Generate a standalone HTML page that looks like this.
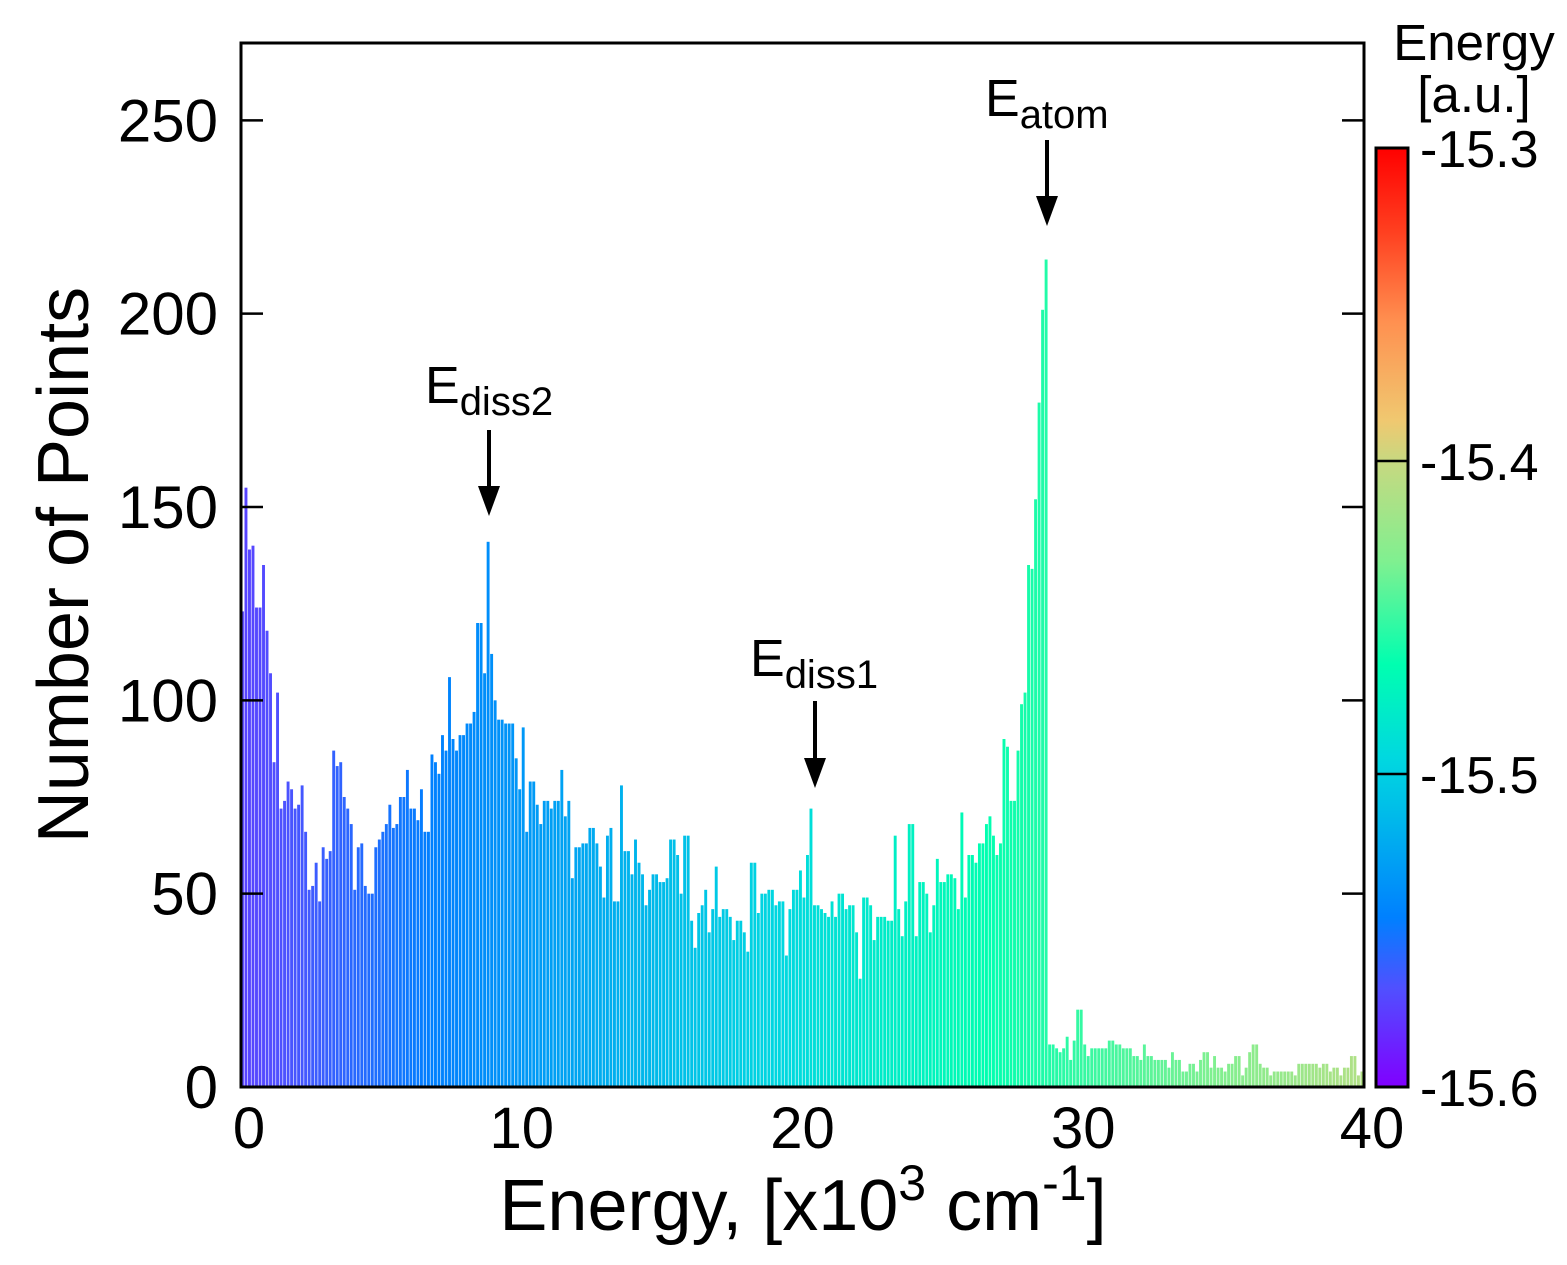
<!DOCTYPE html>
<html><head><meta charset="utf-8">
<style>
html,body{margin:0;padding:0;background:#fff;}
svg{display:block;font-family:"Liberation Sans",Arial,sans-serif;}
</style></head>
<body>
<svg id="chart" width="1567" height="1265" viewBox="0 0 1567 1265" xmlns="http://www.w3.org/2000/svg">
<defs>
<linearGradient id="cbgrad" x1="0" y1="1" x2="0" y2="0">
<stop offset="0" stop-color="#8000ff"/>
<stop offset="0.105" stop-color="#5050ff"/>
<stop offset="0.18" stop-color="#0080ff"/>
<stop offset="0.30" stop-color="#00c0e8"/>
<stop offset="0.35" stop-color="#00d8e0"/>
<stop offset="0.45" stop-color="#00ffb0"/>
<stop offset="0.56" stop-color="#80f090"/>
<stop offset="0.667" stop-color="#c8d880"/>
<stop offset="0.71" stop-color="#f0c870"/>
<stop offset="0.815" stop-color="#ff9050"/>
<stop offset="0.91" stop-color="#ff4020"/>
<stop offset="1" stop-color="#ff0000"/>
</linearGradient>
</defs>
<g id="bars"></g>
<rect x="241" y="43" width="1123" height="1044" fill="none" stroke="#000" stroke-width="3"/>
<g id="yticks"></g>
<g id="xticks"></g>
<text x="803" y="1230" font-size="72" text-anchor="middle">Energy, [x10<tspan dy="-30" font-size="50">3</tspan><tspan dy="30"> cm</tspan><tspan dy="-30" font-size="50">-1</tspan><tspan dy="30">]</tspan></text>
<text transform="translate(88,565) rotate(-90)" font-size="72" text-anchor="middle">Number of Points</text>

<g>
<text x="985" y="116" font-size="52">E<tspan dy="12" font-size="40">atom</tspan></text>
<line x1="1047" y1="140" x2="1047" y2="200" stroke="#000" stroke-width="4"/>
<polygon points="1036,196 1058,196 1047,226" fill="#000"/>
</g>
<g>
<text x="425" y="403" font-size="52">E<tspan dy="12" font-size="40">diss2</tspan></text>
<line x1="489" y1="430" x2="489" y2="490" stroke="#000" stroke-width="4"/>
<polygon points="478,486 500,486 489,516" fill="#000"/>
</g>
<g>
<text x="750" y="676" font-size="52">E<tspan dy="12" font-size="40">diss1</tspan></text>
<line x1="815" y1="701" x2="815" y2="762" stroke="#000" stroke-width="4"/>
<polygon points="804,758 826,758 815,788" fill="#000"/>
</g>

<g>
<rect x="1376" y="148" width="32" height="939" fill="url(#cbgrad)" stroke="#000" stroke-width="3"/>
<g id="cbticks"></g>
<text x="1474" y="60" font-size="51" text-anchor="middle">Energy</text>
<text x="1474" y="112" font-size="51" text-anchor="middle">[a.u.]</text>
</g>
</svg>
<script>
// ---- data ----
const binWidth = 0.125;
const counts = [
123,155,139,140,124,124,135,118,107,84,102,72,74,79,77,72,73,78,66,51,52,58,48,62,59,61,87,83,84,75,72,68,51,62,63,52,50,50,62,64,66,68,73,67,68,75,75,82,72,72,69,77,66,66,
86,84,81,91,87,106,90,87,91,91,94,94,97,120,120,107,141,112,100,95,95,94,94,94,85,77,93,66,79,79,73,68,74,74,72,74,74,82,70,74,54,62,62,63,63,67,67,63,57,49,65,
67,48,48,78,61,61,55,64,58,55,47,51,55,55,53,53,54,64,64,60,50,65,65,43,36,45,47,51,40,46,57,44,46,46,44,38,43,43,40,35,58,58,45,50,50,51,51,47,48,48,34,46,51,
51,56,49,60,72,47,47,46,45,44,48,44,50,50,46,47,47,40,28,49,49,47,38,44,44,44,43,43,65,46,39,48,68,68,39,53,53,50,40,47,59,53,53,55,55,54,46,71,49,60,60,58,
63,63,68,70,65,60,63,90,88,74,74,87,99,102,135,134,152,177,201,214,
11,11,10,9,10,13,7,12,20,20,11,8,10,10,10,10,10,12,12,11,11,10,10,10,8,8,7,11,8,8,7,7,7,7,5,9,7,7,4,4,6,6,4,7,9,9,5,8,5,5,4,6,6,8,8,3,5,9,11,11,6,5,5,3,4,4,4,4,4,4,3,6,6,6,6,6,6,5,6,6,4,5,5,3,5,5,8,8,3,4
];
const yTickValues = [0,50,100,150,200,250];
const xTickValues = [0,10,20,30,40];
const cbTickValues = [-15.6,-15.5,-15.4,-15.3];
const energyAtZero = -15.574;
const energyPerUnit = 0.0041;

// ---- scales ----
const X0=241, X1=1364, Y0=1087, Y1=43;
const xMin=0, xMax=40, yMin=0, yMax=270;
function xs(v){return X0+(v-xMin)/(xMax-xMin)*(X1-X0);}
function ys(v){return Y0-(v-yMin)/(yMax-yMin)*(Y0-Y1);}
const cbMin=-15.6, cbMax=-15.3, CB0=1087, CB1=148;
function cbs(v){return CB0-(v-cbMin)/(cbMax-cbMin)*(CB0-CB1);}

const stops=[[0,[128,0,255]],[0.105,[80,80,255]],[0.18,[0,128,255]],[0.30,[0,192,232]],[0.35,[0,216,224]],[0.45,[0,255,176]],[0.56,[128,240,144]],[0.667,[200,216,128]],[0.71,[240,200,112]],[0.815,[255,144,80]],[0.91,[255,64,32]],[1,[255,0,0]]];
function cmap(t){
  t=Math.max(0,Math.min(1,t));
  for(let i=1;i<stops.length;i++){
    if(t<=stops[i][0]){
      const a=stops[i-1],b=stops[i],f=(t-a[0])/(b[0]-a[0]);
      const c=a[1].map((v,k)=>Math.round(v+(b[1][k]-v)*f));
      return 'rgb('+c.join(',')+')';
    }
  }
  return 'rgb(255,0,0)';
}
const NS='http://www.w3.org/2000/svg';
const barsG=document.getElementById('bars');
counts.forEach((c,i)=>{
  const x0=i*binWidth, x1=(i+1)*binWidth;
  const px0=xs(x0), px1=xs(x1);
  const e=energyAtZero+(x0+binWidth/2)*energyPerUnit;
  const r=document.createElementNS(NS,'rect');
  r.setAttribute('x',px0.toFixed(2));
  r.setAttribute('y',ys(c).toFixed(2));
  r.setAttribute('width',Math.max(0.5,px1-px0-0.6).toFixed(2));
  r.setAttribute('height',(ys(0)-ys(c)).toFixed(2));
  r.setAttribute('fill',cmap((e-cbMin)/(cbMax-cbMin)));
  
  
  barsG.appendChild(r);
});

const yg=document.getElementById('yticks');
yTickValues.forEach(v=>{
  const y=ys(v);
  const t=document.createElementNS(NS,'text');
  t.setAttribute('x',218);t.setAttribute('y',y+21);
  t.setAttribute('font-size','60');t.setAttribute('text-anchor','end');
  t.textContent=v;
  
  
  yg.appendChild(t);
  if(v>0){
    [[X0,X0+22],[X1-22,X1]].forEach(p=>{
      const l=document.createElementNS(NS,'line');
      l.setAttribute('x1',p[0]);l.setAttribute('x2',p[1]);
      l.setAttribute('y1',y);l.setAttribute('y2',y);
      l.setAttribute('stroke','#000');l.setAttribute('stroke-width','2.5');
      
      
      yg.appendChild(l);
    });
  }
});
const xg=document.getElementById('xticks');
xTickValues.forEach(v=>{
  const t=document.createElementNS(NS,'text');
  t.setAttribute('x',xs(v)+(v===0?8:(v===40?8:0)));t.setAttribute('y',1148);
  t.setAttribute('font-size','58');t.setAttribute('text-anchor','middle');
  t.textContent=v;
  
  
  xg.appendChild(t);
});
const cg=document.getElementById('cbticks');
cbTickValues.forEach(v=>{
  const y=cbs(v);
  if(v>cbMin && v<cbMax){
    const l=document.createElementNS(NS,'line');
    l.setAttribute('x1',1376);l.setAttribute('x2',1408);
    l.setAttribute('y1',y);l.setAttribute('y2',y);
    l.setAttribute('stroke','#000');l.setAttribute('stroke-width','2.5');
    
    
    cg.appendChild(l);
  }
  const t=document.createElementNS(NS,'text');
  t.setAttribute('x',1420);t.setAttribute('y',y+19);
  t.setAttribute('font-size','52');
  t.textContent=v.toFixed(1);
  
  
  cg.appendChild(t);
});
</script>
</body></html>
